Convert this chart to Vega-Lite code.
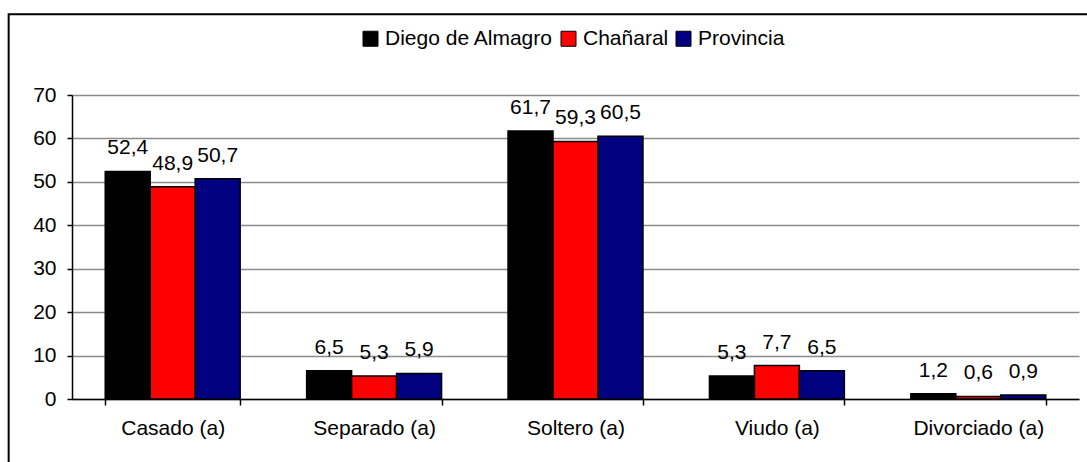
{
  "$schema": "https://vega.github.io/schema/vega-lite/v6.json",
  "width": 1007,
  "height": 304,
  "autosize": {"type": "none"},
  "padding": {"left": 72, "top": 95, "right": 8, "bottom": 63},
  "background": "white",
  "config": {
    "view": {"stroke": null},
    "font": "Liberation Sans",
    "locale": {"number": {"decimal": ",", "thousands": ".", "grouping": [3], "currency": ["", ""]}}
  },
  "datasets": {
    "bars": [
      {"categoria": "Casado (a)", "serie": "Diego de Almagro", "valor": 52.4},
      {"categoria": "Casado (a)", "serie": "Chañaral", "valor": 48.9},
      {"categoria": "Casado (a)", "serie": "Provincia", "valor": 50.7},
      {"categoria": "Separado (a)", "serie": "Diego de Almagro", "valor": 6.5},
      {"categoria": "Separado (a)", "serie": "Chañaral", "valor": 5.3},
      {"categoria": "Separado (a)", "serie": "Provincia", "valor": 5.9},
      {"categoria": "Soltero (a)", "serie": "Diego de Almagro", "valor": 61.7},
      {"categoria": "Soltero (a)", "serie": "Chañaral", "valor": 59.3},
      {"categoria": "Soltero (a)", "serie": "Provincia", "valor": 60.5},
      {"categoria": "Viudo (a)", "serie": "Diego de Almagro", "valor": 5.3},
      {"categoria": "Viudo (a)", "serie": "Chañaral", "valor": 7.7},
      {"categoria": "Viudo (a)", "serie": "Provincia", "valor": 6.5},
      {"categoria": "Divorciado (a)", "serie": "Diego de Almagro", "valor": 1.2},
      {"categoria": "Divorciado (a)", "serie": "Chañaral", "valor": 0.6},
      {"categoria": "Divorciado (a)", "serie": "Provincia", "valor": 0.9}
    ]
  },
  "resolve": {"scale": {"x": "independent", "y": "independent"}},
  "layer": [
    {
      "data": {"values": [{"marco": "borde"}]},
      "mark": {"type": "rect", "fill": null, "stroke": "black", "strokeWidth": 2, "clip": false},
      "encoding": {
        "x": {"datum": -0.0629, "type": "quantitative", "scale": {"domain": [0, 1], "nice": false, "zero": false}, "axis": null},
        "x2": {"datum": 1.2},
        "y": {"datum": 1.2655, "type": "quantitative", "scale": {"domain": [0, 1], "nice": false, "zero": false}, "axis": null},
        "y2": {"datum": -0.3}
      }
    },
    {
      "data": {"name": "bars"},
      "encoding": {
        "x": {
          "field": "categoria", "type": "nominal",
          "sort": ["Casado (a)", "Separado (a)", "Soltero (a)", "Viudo (a)", "Divorciado (a)"],
          "scale": {"paddingInner": 0.33, "paddingOuter": 0.165},
          "axis": {
            "title": null, "labelAngle": 0, "tickBand": "extent",
            "tickSize": 6, "tickColor": "black", "tickWidth": 1.5,
            "domainColor": "black", "domainWidth": 1.5,
            "labelFontSize": 21, "labelColor": "black", "labelPadding": 12,
            "grid": false
          }
        },
        "xOffset": {
          "field": "serie", "type": "nominal",
          "sort": ["Diego de Almagro", "Chañaral", "Provincia"],
          "scale": {"paddingInner": 0, "paddingOuter": 0}
        },
        "y": {
          "field": "valor", "type": "quantitative",
          "scale": {"domain": [0, 70], "nice": false},
          "axis": {
            "title": null, "values": [0, 10, 20, 30, 40, 50, 60, 70],
            "grid": true, "gridColor": "#8c8c8c", "gridWidth": 1.5,
            "domainColor": "black", "domainWidth": 1.5,
            "tickColor": "black", "tickSize": 5, "tickWidth": 1.5,
            "labelFontSize": 21, "labelColor": "black", "labelPadding": 11
          }
        }
      },
      "layer": [
        {
          "mark": {"type": "bar", "stroke": "black", "strokeWidth": 1.5},
          "encoding": {
            "color": {
              "field": "serie", "type": "nominal",
              "sort": ["Diego de Almagro", "Chañaral", "Provincia"],
              "scale": {"domain": ["Diego de Almagro", "Chañaral", "Provincia"], "range": ["#000000", "#ff0000", "#000080"]},
              "legend": {
                "title": null, "orient": "none", "legendX": 288, "legendY": -67,
                "direction": "horizontal", "symbolType": "square", "symbolSize": 225,
                "symbolStrokeColor": "black", "symbolStrokeWidth": 1,
                "labelFontSize": 21, "labelColor": "black", "labelOffset": 4,
                "labelLimit": 0, "columnPadding": 4, "padding": 0
              }
            }
          }
        },
        {
          "mark": {"type": "text", "baseline": "alphabetic", "dy": -17, "fontSize": 21, "color": "black"},
          "encoding": {
            "text": {"field": "valor", "type": "quantitative", "format": ".1f"}
          }
        }
      ]
    }
  ]
}
